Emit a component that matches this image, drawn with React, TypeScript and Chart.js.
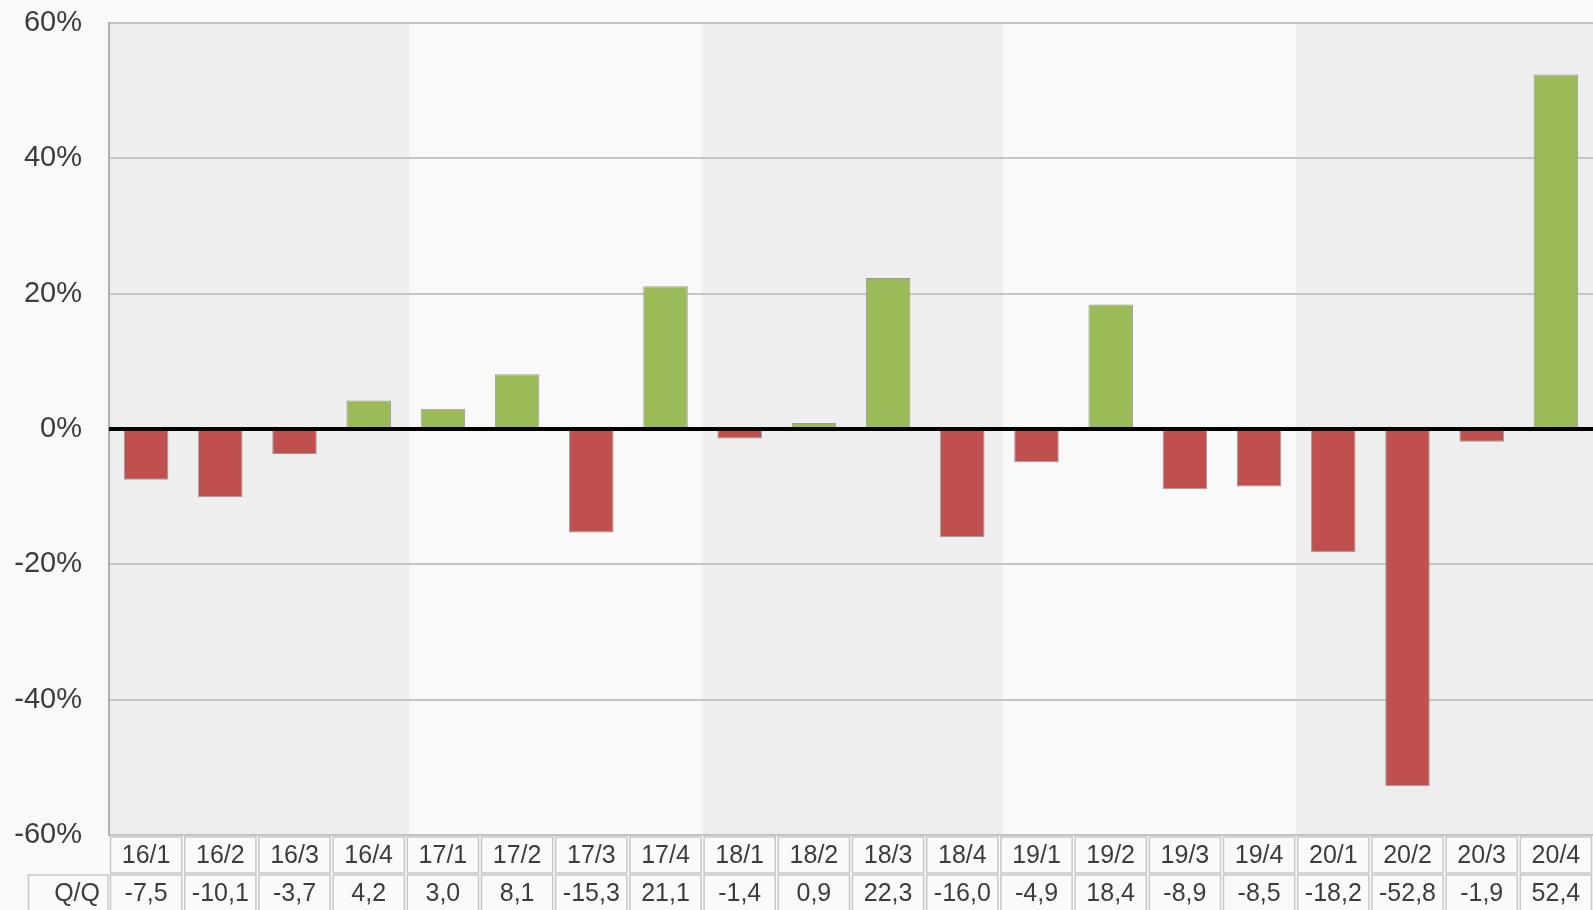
import React, { useEffect, useRef } from "react";
import { Chart, registerables } from "chart.js";

Chart.register(...registerables);

const categories = ["16/1","16/2","16/3","16/4","17/1","17/2","17/3","17/4","18/1","18/2","18/3","18/4","19/1","19/2","19/3","19/4","20/1","20/2","20/3","20/4"];
const qqValues = [-7.5,-10.1,-3.7,4.2,3.0,8.1,-15.3,21.1,-1.4,0.9,22.3,-16.0,-4.9,18.4,-8.9,-8.5,-18.2,-52.8,-1.9,52.4];
const yTicks = [-60,-40,-20,0,20,40,60];
const rowHeader = "Q/Q";

const RED = "#c0504d";
const GREEN = "#9bbb59";
const TEXT = "#3c3c3c";
const FONT = "'Liberation Sans', Arial, sans-serif";

const fmt = (v: number) => v.toFixed(1).replace(".", ",");

const decorPlugin = {
  id: "decor",
  beforeDraw(chart: any) {
    const { ctx, chartArea, scales } = chart;
    const x = scales.x;
    ctx.save();
    ctx.fillStyle = "#f9f9f9";
    ctx.fillRect(0, 0, chart.width, chart.height);
    const step = x.getPixelForValue(1) - x.getPixelForValue(0);
    for (let i = 0; i < categories.length; i += 4) {
      const year = Math.floor(i / 4);
      if (year % 2 !== 0) continue;
      const l = x.getPixelForValue(i) - step / 2;
      const r = x.getPixelForValue(Math.min(i + 3, categories.length - 1)) + step / 2 + 3.5;
      ctx.fillStyle = "#eeeeee";
      ctx.fillRect(l, chartArea.top, r - l, chartArea.bottom - chartArea.top);
    }
    ctx.restore();
  },
  afterDatasetsDraw(chart: any) {
    const { ctx, chartArea, scales } = chart;
    const x = scales.x;
    const y = scales.y;
    ctx.save();
    const y0 = y.getPixelForValue(0);
    ctx.strokeStyle = "#000";
    ctx.lineWidth = 4;
    ctx.beginPath();
    ctx.moveTo(chartArea.left, y0);
    ctx.lineTo(chartArea.right, y0);
    ctx.stroke();

    // table
    const step = x.getPixelForValue(1) - x.getPixelForValue(0);
    const top1 = chartArea.bottom + 2;
    const h1 = 36;
    const top2 = top1 + h1 + 2;
    const h2 = 40;
    ctx.lineWidth = 1.5;
    ctx.strokeStyle = "#c8c8c8";
    ctx.font = `25px ${FONT}`;
    ctx.textBaseline = "middle";
    for (let i = 0; i < categories.length; i++) {
      const cx = x.getPixelForValue(i);
      const l = cx - step / 2 + 1.5;
      const w = step - 3;
      ctx.fillStyle = "#fafafa";
      ctx.fillRect(l, top1, w, h1);
      ctx.fillRect(l, top2, w, h2);
      ctx.strokeRect(l, top1, w, h1);
      ctx.strokeRect(l, top2, w, h2);
      ctx.fillStyle = TEXT;
      ctx.textAlign = "center";
      ctx.fillText(categories[i], cx, top1 + h1 / 2 + 1);
      ctx.fillText(fmt(qqValues[i]), cx, top2 + h2 / 2 - 1);
    }
    // header cell
    const hl = 28.5;
    const hr = chartArea.left - 1;
    ctx.fillStyle = "#fafafa";
    ctx.fillRect(hl, top2, hr - hl, h2);
    ctx.strokeRect(hl, top2, hr - hl, h2);
    ctx.fillStyle = TEXT;
    ctx.textAlign = "right";
    ctx.fillText(rowHeader, hr - 8, top2 + h2 / 2 - 1);
    ctx.restore();
  },
};

export default function App() {
  const ref = useRef<HTMLCanvasElement>(null);
  useEffect(() => {
    if (!ref.current) return;
    const chart = new Chart(ref.current, {
      type: "bar",
      data: {
        labels: categories,
        datasets: [
          {
            data: qqValues,
            backgroundColor: qqValues.map((v) => (v < 0 ? RED : GREEN)),
            borderColor: "#9a9a9a",
            borderWidth: 1,
            barPercentage: 0.6,
            categoryPercentage: 1,
          },
        ],
      },
      options: {
        animation: false,
        responsive: false,
        layout: { padding: { top: 23, bottom: 75, left: 0, right: 0 } },
        plugins: { legend: { display: false }, tooltip: { enabled: false } },
        scales: {
          x: { display: false, offset: true },
          y: {
            min: -60,
            max: 60,
            afterFit: (s: any) => {
              s.width = 109;
              s.paddingTop = 0;
              s.paddingBottom = 0;
            },
            afterBuildTicks: (s: any) => {
              s.ticks = yTicks.map((v) => ({ value: v }));
            },
            ticks: {
              padding: 27,
              color: TEXT,
              font: { family: FONT, size: 29 },
              callback: (v: any) => v + "%",
            },
            grid: {
              drawTicks: false,
              lineWidth: 2,
              color: (c: any) => (c.tick && c.tick.value === 0 ? "rgba(0,0,0,0)" : "#c4c4c4"),
            },
            border: { color: "#b0b0b0", width: 2 },
          },
        },
      },
      plugins: [decorPlugin],
    });
    return () => chart.destroy();
  }, []);
  return (
    <div style={{ position: "absolute", left: 0, top: 0, width: 1593, height: 910 }}>
      <canvas ref={ref} width={1593} height={910} />
    </div>
  );
}
